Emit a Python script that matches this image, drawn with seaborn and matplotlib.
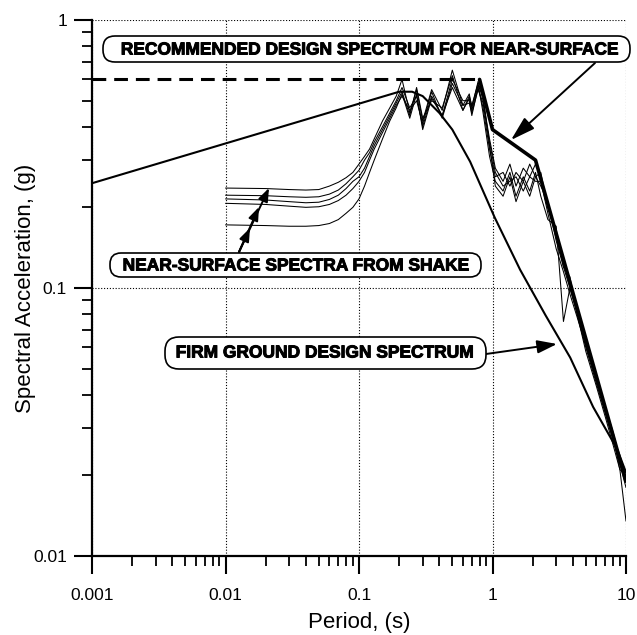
import matplotlib
matplotlib.use("Agg")
import matplotlib.pyplot as plt
import matplotlib.patheffects as pe
import seaborn as sns
import numpy as np
import pandas as pd
from matplotlib.patches import FancyBboxPatch
from matplotlib.transforms import IdentityTransform
from matplotlib.ticker import NullFormatter

# ---------------- data ----------------
shake_periods = [0.01, 0.02, 0.03, 0.04, 0.05, 0.06, 0.07, 0.08, 0.09, 0.1, 0.11, 0.12, 0.13,
                 0.15, 0.17, 0.19, 0.21, 0.24, 0.27, 0.3, 0.35, 0.42, 0.5, 0.6, 0.67, 0.7,
                 0.78, 0.85, 0.95, 1.05, 1.2, 1.35, 1.5, 1.7, 1.9, 2.1, 2.3, 2.6, 3.0, 3.4,
                 3.8, 4.3, 5.0, 6.0, 7.0, 8.0, 9.0, 10.0]
shake_a = [0.236, 0.235, 0.233, 0.232, 0.233, 0.240, 0.248, 0.258, 0.27, 0.29, 0.31, 0.33, 0.36,
           0.42, 0.47, 0.52, 0.60, 0.45, 0.55, 0.42, 0.55, 0.46, 0.65, 0.48, 0.53, 0.47,
           0.59, 0.50, 0.36, 0.28, 0.25, 0.29, 0.24, 0.28, 0.26, 0.29, 0.26, 0.20, 0.16, 0.13,
           0.105, 0.085, 0.063, 0.046, 0.036, 0.029, 0.023, 0.019]
shake_b = [0.222, 0.221, 0.219, 0.218, 0.219, 0.224, 0.232, 0.245, 0.26, 0.275, 0.30, 0.32, 0.35,
           0.40, 0.45, 0.50, 0.56, 0.47, 0.52, 0.40, 0.52, 0.44, 0.60, 0.50, 0.50, 0.44,
           0.56, 0.47, 0.33, 0.26, 0.27, 0.24, 0.27, 0.25, 0.29, 0.26, 0.24, 0.21, 0.15, 0.12,
           0.11, 0.08, 0.060, 0.044, 0.034, 0.027, 0.022, 0.018]
shake_c = [0.215, 0.213, 0.210, 0.208, 0.209, 0.214, 0.222, 0.235, 0.25, 0.26, 0.28, 0.31, 0.34,
           0.39, 0.44, 0.49, 0.54, 0.44, 0.56, 0.43, 0.50, 0.47, 0.62, 0.46, 0.52, 0.48,
           0.58, 0.45, 0.31, 0.25, 0.23, 0.27, 0.22, 0.26, 0.23, 0.27, 0.22, 0.18, 0.17, 0.075,
           0.10, 0.08, 0.058, 0.043, 0.033, 0.026, 0.021, 0.020]
shake_d = [0.207, 0.205, 0.202, 0.200, 0.201, 0.205, 0.212, 0.222, 0.235, 0.25, 0.27, 0.30, 0.33,
           0.38, 0.43, 0.48, 0.52, 0.46, 0.50, 0.41, 0.54, 0.43, 0.58, 0.48, 0.49, 0.45,
           0.55, 0.49, 0.35, 0.27, 0.24, 0.25, 0.26, 0.23, 0.26, 0.25, 0.25, 0.19, 0.14, 0.115,
           0.095, 0.078, 0.061, 0.045, 0.035, 0.028, 0.022, 0.020]
shake_e = [0.172, 0.171, 0.170, 0.170, 0.171, 0.174, 0.180, 0.190, 0.20, 0.215, 0.24, 0.27, 0.30,
           0.36, 0.42, 0.47, 0.53, 0.43, 0.53, 0.39, 0.51, 0.44, 0.56, 0.46, 0.51, 0.46,
           0.57, 0.52, 0.34, 0.24, 0.22, 0.26, 0.21, 0.25, 0.22, 0.26, 0.27, 0.20, 0.16, 0.12,
           0.10, 0.082, 0.062, 0.046, 0.035, 0.028, 0.021, 0.0135]

firm_periods = [0.001, 0.2, 0.25, 0.3, 0.4, 0.5, 0.68, 1.04, 1.61, 2.5, 3.82, 5.67, 8.6, 10.0]
firm_sa = [0.246, 0.54, 0.54, 0.52, 0.45, 0.39, 0.296, 0.183, 0.117, 0.079, 0.055, 0.036, 0.025, 0.0205]

plateau_periods = [0.001, 0.8]
plateau_sa = [0.6, 0.6]
rec_periods = [0.8, 1.0, 2.1, 10.0]
rec_sa = [0.6, 0.39, 0.30, 0.019]

x_ticks = [0.001, 0.01, 0.1, 1, 10]
x_labels = ["0.001", "0.01", "0.1", "1", "10"]
y_ticks = [0.01, 0.1, 1]
y_labels = ["0.01", "0.1", "1"]

label_rec = "RECOMMENDED DESIGN SPECTRUM FOR NEAR-SURFACE"
label_shake = "NEAR-SURFACE SPECTRA FROM SHAKE"
label_firm = "FIRM GROUND DESIGN SPECTRUM"

# ---------------- figure ----------------
sns.set_theme(style="white")
plt.rcParams["font.family"] = ["Liberation Sans", "DejaVu Sans"]

W, H = 637, 635
fig = plt.figure(figsize=(W / 100, H / 100), dpi=100)
ax = fig.add_axes([92 / W, 1 - 556 / H, 534 / W, 536 / H])

shake_df = pd.concat([
    pd.DataFrame({"period": shake_periods, "sa": vals, "run": name})
    for name, vals in [("a", shake_a), ("b", shake_b), ("c", shake_c), ("d", shake_d), ("e", shake_e)]
], ignore_index=True)

sns.lineplot(data=shake_df, x="period", y="sa", units="run", estimator=None, sort=False,
             color="black", lw=0.75, ax=ax, legend=False)
sns.lineplot(x=firm_periods, y=firm_sa, estimator=None, sort=False, color="black", lw=1.5, ax=ax)
sns.lineplot(x=plateau_periods, y=plateau_sa, estimator=None, sort=False, color="black", lw=2.2,
             linestyle=(0, (4.5, 2.6)), ax=ax)
sns.lineplot(x=rec_periods, y=rec_sa, estimator=None, sort=False, color="black", lw=2.6, ax=ax)

ax.set_xscale("log")
ax.set_yscale("log")
ax.set_xlim(0.001, 10)
ax.set_ylim(0.01, 1)
ax.set_xticks(x_ticks)
ax.set_xticklabels(x_labels)
ax.set_yticks(y_ticks)
ax.set_yticklabels(y_labels)
ax.xaxis.set_minor_formatter(NullFormatter())
ax.yaxis.set_minor_formatter(NullFormatter())

ax.grid(True, which="major", color="black", linestyle=(0, (1, 1.6)), lw=0.8)
for s in ["top", "right"]:
    ax.spines[s].set_visible(False)
for s in ["left", "bottom"]:
    ax.spines[s].set_color("black")
    ax.spines[s].set_linewidth(1.6)

ax.tick_params(which="major", bottom=True, left=True, direction="out", length=13, width=1.5,
               color="black", labelsize=12.5, labelcolor="black")
ax.tick_params(which="minor", bottom=True, left=True, direction="out", length=7, width=1.3,
               color="black")
ax.tick_params(axis="x", which="major", pad=10)
ax.tick_params(axis="y", which="major", pad=5)

ax.set_xlabel("Period, (s)", fontsize=16, color="black")
ax.set_ylabel("Spectral Acceleration, (g)", fontsize=16, color="black")
ax.xaxis.set_label_coords(0.5, -0.105)
ax.yaxis.set_label_coords(-0.105, 0.5)

# ---------------- annotation boxes ----------------
def add_box(x0, y0, x1, y1, r):
    p = FancyBboxPatch((x0, H - y1), x1 - x0, y1 - y0,
                       boxstyle=f"round,pad=0,rounding_size={r}",
                       facecolor="white", edgecolor="black", lw=1.2,
                       transform=IdentityTransform(), zorder=5)
    fig.add_artist(p)

def add_label(cx, cy, s):
    t = fig.text(cx / W, 1 - cy / H, s, ha="center", va="center", fontsize=12.5,
                 fontweight="bold", color="black", zorder=6)
    t.set_path_effects([pe.withStroke(linewidth=0.7, foreground="black")])

add_box(103, 36, 630, 62, 12)
add_label(369, 50, label_rec)
add_box(110, 253, 481, 277, 11)
add_label(295.5, 266, label_shake)
add_box(165, 337, 486, 369, 14)
add_label(324.5, 353, label_firm)

def arrow(x0, y0, x1, y1, hl=1.2, hw=0.4):
    ax.annotate("", xy=(x1, H - y1), xycoords="figure pixels",
                xytext=(x0, H - y0), textcoords="figure pixels",
                arrowprops=dict(arrowstyle=f"-|>,head_length={hl},head_width={hw}",
                                color="black", lw=1.4, shrinkA=0, shrinkB=0,
                                mutation_scale=10), zorder=6)

arrow(595, 63, 511, 140, hl=1.5, hw=0.45)
arrow(486, 354, 557, 344, hl=1.2, hw=0.4)
arrow(239, 252, 250, 228, hl=0.8, hw=0.3)
arrow(239, 252, 259, 207, hl=0.8, hw=0.3)
arrow(239, 252, 269, 188, hl=0.8, hw=0.3)

fig.savefig("out.png", dpi=100)
